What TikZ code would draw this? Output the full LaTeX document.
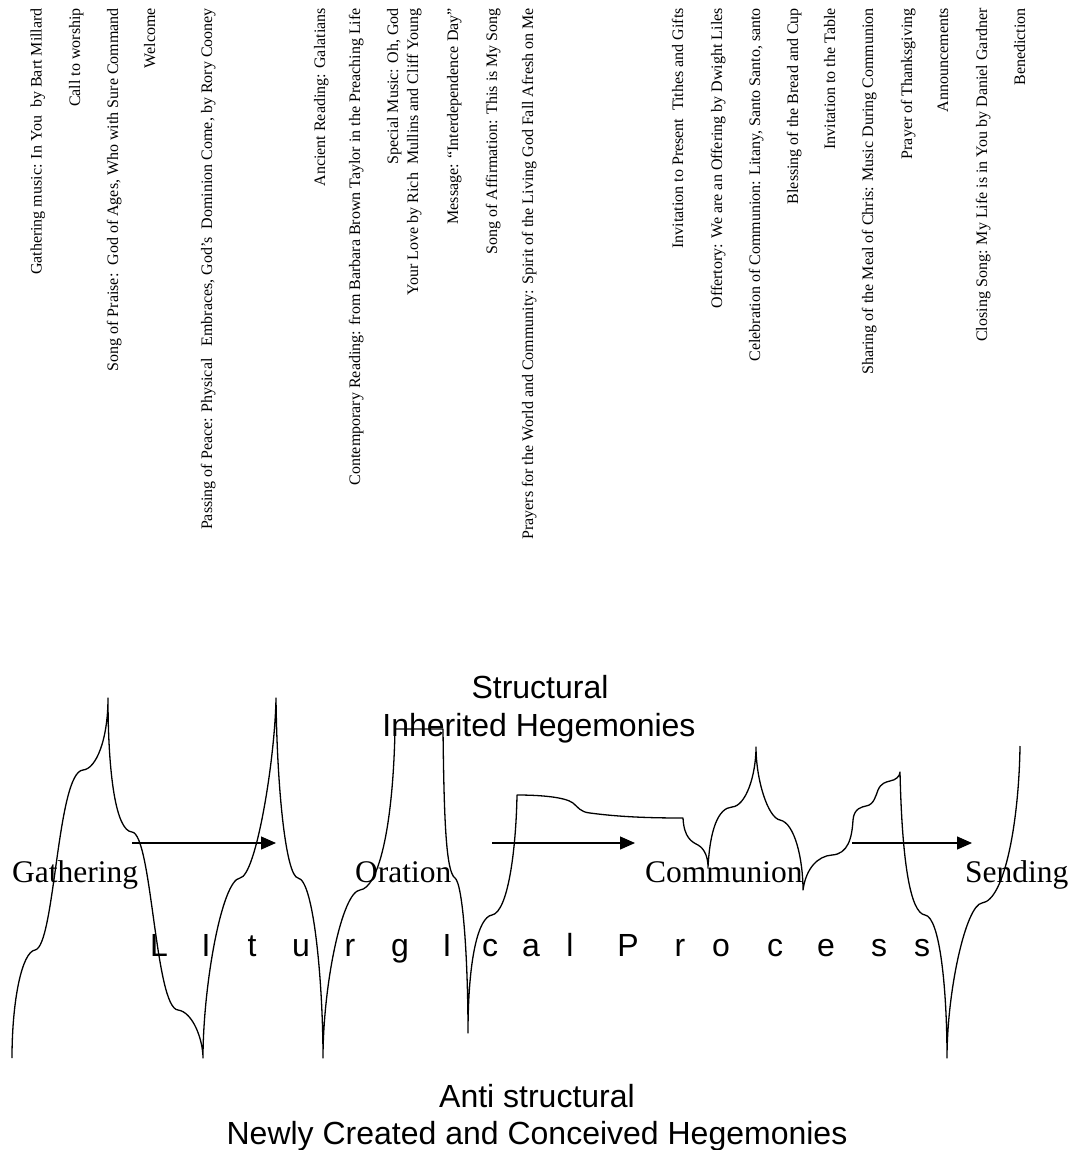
\documentclass[tikz,border=0pt]{standalone}
\usepackage{fontspec}
\setmainfont{Liberation Serif}
\newfontfamily\arialf{Liberation Sans}
\usetikzlibrary{arrows.meta}
\begin{document}
\begin{tikzpicture}[x=1pt,y=-1pt,
  item/.style={rotate=90, anchor=base east, inner sep=0pt, font=\fontsize{16}{18.4}\selectfont},
  stage/.style={anchor=base west, inner sep=0pt, font=\fontsize{31.5}{36}\selectfont},
  sanslabel/.style={anchor=base, inner sep=0pt, font=\arialf\fontsize{32}{36.8}\selectfont},
  flow/.style={line width=1.3pt, -{Triangle[length=15pt,width=13pt]}},
  wave/.style={line width=1.3pt, line join=round}]
\useasboundingbox (0,0) rectangle (1074,1150);

% order of service (rotated)
\node[item] (t1)  at (41.7,8) {Gathering music: In You\ \ by Bart Millard};
\node[item] (t2)  at (80,8)   {Call to worship};
\node[item] (t3)  at (118,8)  {Song of Praise:\ \ God of Ages, Who with Sure Command};
\node[item] (t4)  at (155,8)  {Welcome};
\node[item] (t5)  at (212,8)  {Passing of Peace: Physical\ \ \ Embraces, God’s\ \ Dominion Come, by Rory Cooney};
\node[item] (t6)  at (325,8)  {Ancient Reading: Galatians};
\node[item] (t7)  at (360,8)  {Contemporary Reading: from Barbara Brown Taylor in the Preaching Life};
\node[item] (t8a) at (398,8)  {Special Music: Oh, God};
\node[item] (t8b) at (418,8)  {Your Love by Rich\ \ Mullins and Cliff Young};
\node[item] (t9)  at (458,8)  {Message: “Interdependence Day”};
\node[item] (t10) at (497,8)  {Song of Affirmation: This is My Song};
\node[item] (t11) at (533,8)  {Prayers for the World and Community: Spirit of the Living God Fall Afresh on Me};
\node[item] (t12) at (683,8)  {Invitation to Present\ \ Tithes and Gifts};
\node[item] (t13) at (722,8)  {Offertory: We are an Offering by Dwight Liles};
\node[item] (t14) at (760,8)  {Celebration of Communion: Litany, Santo Santo, santo};
\node[item] (t15) at (798,8)  {Blessing of the Bread and Cup};
\node[item] (t16) at (835,8)  {Invitation to the Table};
\node[item] (t17) at (873,8)  {Sharing of the Meal of Chris: Music During Communion};
\node[item] (t18) at (912,8)  {Prayer of Thanksgiving};
\node[item] (t19) at (948,8)  {Announcements};
\node[item] (t20) at (987,8)  {Closing Song: My Life is in You by Daniel Gardner};
\node[item] (t21) at (1025,8) {Benediction};

% headings
\node[sanslabel] (structural) at (540,698) {Structural};
\node[sanslabel] (inherited)  at (539,736) {Inherited Hegemonies};
\node[sanslabel] (anti)       at (537,1107) {Anti structural};
\node[sanslabel] (newly)      at (537,1144) {Newly Created and Conceived Hegemonies};

% stages
\node[stage] (gathering) at (12,882)  {Gathering};
\node[stage] (oration)   at (355,882) {Oration};
\node[stage] (communion) at (645,882) {Communion};
\node[stage] (sending)   at (965,882) {Sending};

% spaced letters
\foreach \ch/\xx [count=\i] in {L/159,I/206,t/252,u/301,r/350,g/400,I/447,c/490,a/531,l/570,P/628,r/680,o/721,c/775,e/826,s/879,s/922}
  \node[sanslabel] (lit\i) at (\xx,956) {\ch};

% the wave
\draw[wave] (12,1058)
 .. controls (12,1000) and (22,952) .. (35,950)
 .. controls (55,947) and (57,772) .. (83,770)
 .. controls (96,769) and (108,740) .. (108,698)
 .. controls (108,775) and (116,831) .. (132,832)
 .. controls (152,834) and (155,1008) .. (178,1010)
 .. controls (193,1012) and (203,1040) .. (203,1058)
 .. controls (203,985) and (222,880) .. (240,878)
 .. controls (256,876) and (275,760) .. (276,698)
 .. controls (277,790) and (286,876) .. (298,878)
 .. controls (314,880) and (323,985) .. (323,1058)
 .. controls (323,985) and (342,892) .. (360,890)
 .. controls (378,888) and (393,830) .. (395,729)
 -- (443,729)
 .. controls (444,820) and (446,872) .. (455,878)
 .. controls (463,884) and (468,960) .. (468,1033)
 .. controls (468,960) and (478,917) .. (492,915)
 .. controls (508,912) and (516,850) .. (517,795)
 .. controls (540,795) and (565,797) .. (573,803)
 .. controls (578,807) and (580,812) .. (590,813)
 .. controls (620,817) and (650,818) .. (683,818)
 .. controls (684,838) and (692,842) .. (698,845)
 .. controls (705,849) and (708,858) .. (708,867)
 .. controls (710,830) and (718,808) .. (732,807)
 .. controls (746,806) and (756,775) .. (756,747)
 .. controls (756,780) and (768,818) .. (780,820)
 .. controls (795,823) and (803,860) .. (803,890)
 .. controls (806,868) and (818,856) .. (832,855)
 .. controls (848,854) and (852,838) .. (853,820)
 .. controls (854,808) and (862,807) .. (866,806)
 .. controls (874,805) and (876,795) .. (878,790)
 .. controls (881,783) and (886,782) .. (890,781)
 .. controls (896,780) and (900,776) .. (900,772)
 .. controls (902,860) and (910,913) .. (925,915)
 .. controls (940,917) and (947,990) .. (947,1058)
 .. controls (947,990) and (966,905) .. (982,903)
 .. controls (1005,900) and (1019,820) .. (1020,746);

% arrows
\coordinate (a1s) at (132,843); \coordinate (a1e) at (276,843);
\coordinate (a2s) at (492,843); \coordinate (a2e) at (635,843);
\coordinate (a3s) at (852,843); \coordinate (a3e) at (972,843);
\draw[flow] (a1s) -- (a1e);
\draw[flow] (a2s) -- (a2e);
\draw[flow] (a3s) -- (a3e);
\end{tikzpicture}
\end{document}
